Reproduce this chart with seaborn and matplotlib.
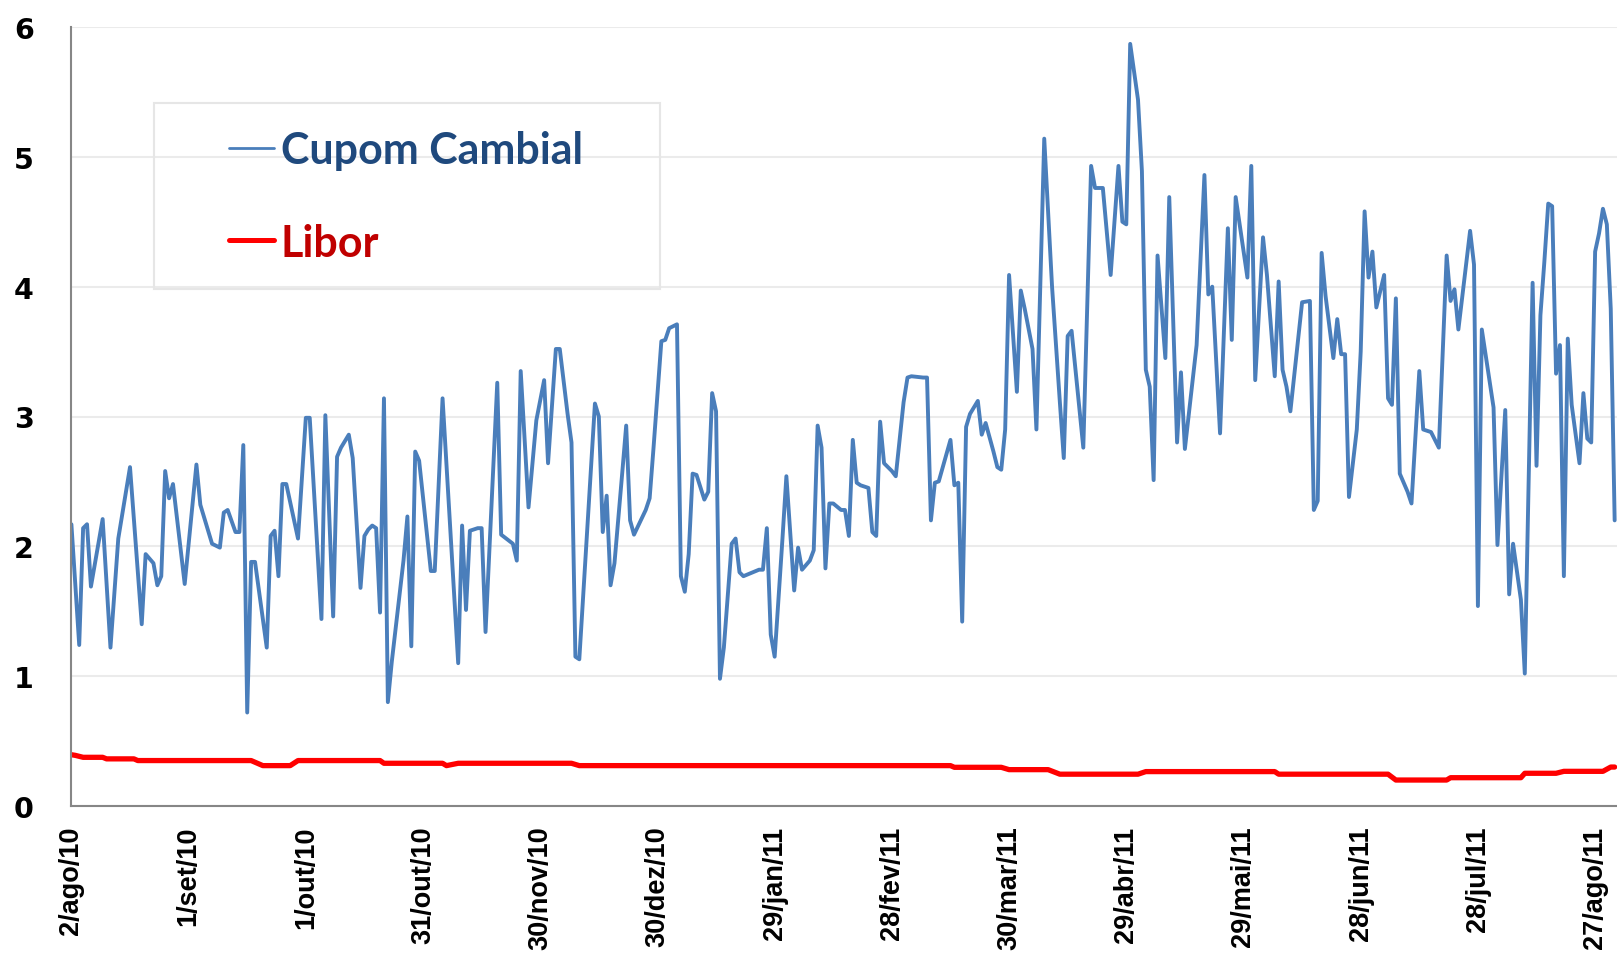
import pandas as pd
import matplotlib
matplotlib.use("Agg")
import matplotlib.pyplot as plt
from matplotlib.lines import Line2D
from matplotlib.patches import Rectangle
import seaborn as sns

# first day of the series; all positions below are days counted from it
start = pd.Timestamp("2010-08-02")

# Cupom Cambial (% a.a.)
cupom_days = [0, 2, 3, 4, 5, 8, 10, 12, 15, 18, 19, 21, 22, 23, 24, 25, 26, 29, 32, 33,
              36, 38, 39, 40, 42, 43, 44, 45, 46, 47, 50, 51, 52, 53, 54, 55, 58, 60, 61, 64,
              65, 67, 68, 69, 71, 72, 74, 75, 76, 77, 78, 79, 80, 81, 82, 85, 86, 87, 88, 89,
              92, 93, 95, 96, 99, 100, 101, 102, 104, 105, 106, 109, 110, 113, 114, 115, 117, 119, 121, 122,
              124, 125, 127, 128, 129, 130, 134, 135, 136, 137, 138, 139, 141, 142, 143, 144, 147, 148, 149, 151,
              152, 153, 155, 156, 157, 158, 159, 160, 162, 163, 164, 165, 166, 167, 169, 170, 171, 172, 176, 177,
              178, 179, 180, 182, 183, 185, 186, 187, 189, 190, 191, 192, 193, 194, 195, 197, 198, 199, 200, 201,
              202, 204, 205, 206, 207, 208, 210, 211, 213, 214, 215, 218, 219, 220, 221, 222, 225, 226, 227, 228,
              229, 230, 232, 233, 234, 236, 237, 238, 239, 240, 242, 243, 244, 246, 247, 249, 251, 253, 254, 255,
              256, 259, 261, 262, 264, 266, 268, 269, 270, 271, 273, 274, 275, 276, 277, 278, 280, 281, 283, 284,
              285, 288, 290, 291, 292, 294, 296, 297, 298, 301, 302, 303, 305, 306, 308, 309, 310, 311, 312, 315,
              317, 318, 319, 320, 321, 323, 324, 325, 326, 327, 329, 330, 331, 332, 333, 334, 336, 337, 338, 339,
              340, 342, 343, 345, 346, 348, 350, 352, 353, 354, 355, 358, 359, 360, 361, 364, 365, 367, 368, 369,
              371, 372, 374, 375, 376, 377, 378, 379, 380, 381, 382, 383, 384, 386, 387, 388, 389, 390, 391, 392,
              393, 394, 395]
cupom_vals = [2.17, 1.24, 2.14, 2.17, 1.69, 2.21, 1.22, 2.06, 2.61, 1.40, 1.94, 1.87, 1.70, 1.77, 2.58, 2.37, 2.48, 1.71, 2.63, 2.32,
              2.02, 1.99, 2.26, 2.28, 2.11, 2.11, 2.78, 0.72, 1.88, 1.88, 1.22, 2.08, 2.12, 1.77, 2.48, 2.48, 2.06, 2.99, 2.99, 1.44,
              3.01, 1.46, 2.69, 2.76, 2.86, 2.68, 1.68, 2.08, 2.13, 2.16, 2.14, 1.49, 3.14, 0.80, 1.11, 1.89, 2.23, 1.23, 2.73, 2.66,
              1.81, 1.81, 3.14, 2.63, 1.10, 2.16, 1.51, 2.12, 2.14, 2.14, 1.34, 3.26, 2.09, 2.02, 1.89, 3.35, 2.30, 2.97, 3.28, 2.64,
              3.52, 3.52, 3.02, 2.80, 1.15, 1.13, 3.10, 3.00, 2.11, 2.39, 1.70, 1.87, 2.57, 2.93, 2.20, 2.09, 2.28, 2.37, 2.76, 3.58,
              3.59, 3.68, 3.71, 1.77, 1.65, 1.94, 2.56, 2.55, 2.36, 2.42, 3.18, 3.04, 0.98, 1.22, 2.02, 2.06, 1.80, 1.77, 1.82, 1.82,
              2.14, 1.32, 1.15, 2.06, 2.54, 1.66, 1.99, 1.82, 1.89, 1.97, 2.93, 2.76, 1.83, 2.33, 2.33, 2.28, 2.28, 2.08, 2.82, 2.49,
              2.47, 2.45, 2.11, 2.08, 2.96, 2.64, 2.58, 2.54, 3.11, 3.30, 3.31, 3.30, 3.30, 2.20, 2.49, 2.50, 2.82, 2.47, 2.49, 1.42,
              2.92, 3.02, 3.12, 2.86, 2.95, 2.73, 2.61, 2.59, 2.90, 4.09, 3.19, 3.97, 3.83, 3.52, 2.90, 5.14, 4.00, 3.11, 2.68, 3.62,
              3.66, 2.76, 4.93, 4.76, 4.76, 4.09, 4.93, 4.50, 4.48, 5.87, 5.44, 4.89, 3.36, 3.23, 2.51, 4.24, 3.45, 4.69, 2.80, 3.34,
              2.75, 3.55, 4.86, 3.94, 4.00, 2.87, 4.45, 3.59, 4.69, 4.07, 4.93, 3.28, 4.38, 4.09, 3.31, 4.04, 3.36, 3.23, 3.04, 3.88,
              3.89, 2.28, 2.35, 4.26, 3.93, 3.45, 3.75, 3.48, 3.48, 2.38, 2.90, 3.50, 4.58, 4.07, 4.27, 3.84, 4.09, 3.14, 3.09, 3.91,
              2.56, 2.42, 2.33, 3.35, 2.90, 2.88, 2.76, 4.24, 3.89, 3.98, 3.67, 4.43, 4.17, 1.54, 3.67, 3.07, 2.01, 3.05, 1.63, 2.02,
              1.59, 1.02, 4.03, 2.62, 3.78, 4.19, 4.64, 4.62, 3.33, 3.55, 1.77, 3.60, 3.09, 2.64, 3.18, 2.83, 2.80, 4.27, 4.41, 4.60,
              4.48, 3.83, 2.20]

# Libor (% a.a.)
libor_days = [0, 1, 3, 8, 9, 16, 17, 46, 49, 56, 58, 79, 80, 95, 96, 99, 128, 130, 225, 226,
              238, 240, 250, 253, 273, 275, 308, 309, 337, 339, 352, 353, 371, 372, 380, 382, 392, 394, 395]
libor_vals = [0.395, 0.39, 0.375, 0.375, 0.363, 0.363, 0.35, 0.35, 0.311, 0.311, 0.35, 0.35, 0.329, 0.329, 0.311, 0.329, 0.329, 0.311, 0.311, 0.298,
              0.298, 0.28, 0.28, 0.245, 0.245, 0.265, 0.265, 0.245, 0.245, 0.20, 0.20, 0.218, 0.218, 0.252, 0.252, 0.267, 0.267, 0.30, 0.30]

tick_labels = ["2/ago/10", "1/set/10", "1/out/10", "31/out/10", "30/nov/10", "30/dez/10", "29/jan/11",
               "28/fev/11", "30/mar/11", "29/abr/11", "29/mai/11", "28/jun/11", "28/jul/11", "27/ago/11"]

cupom = pd.DataFrame({"data": start + pd.to_timedelta(cupom_days, unit="D"), "taxa": cupom_vals})
libor = pd.DataFrame({"data": start + pd.to_timedelta(libor_days, unit="D"), "taxa": libor_vals})

sns.set_theme(style="white")
plt.rcParams["font.family"] = ["Liberation Sans", "DejaVu Sans"]

W, H = 1617, 979
fig = plt.figure(figsize=(W / 100, H / 100), dpi=100)
ax = fig.add_axes([71.4 / W, 1 - 807 / H, 1 - 71.4 / W, (807 - 28) / H])

sns.lineplot(data=cupom, x="data", y="taxa", color="#4A7EBB", linewidth=2.8, ax=ax,
             solid_joinstyle="round")
sns.lineplot(data=libor, x="data", y="taxa", color="#FF0000", linewidth=3.8, ax=ax)

ax.set_xlabel("")
ax.set_ylabel("")
ax.set_ylim(0, 6)
ax.set_xlim(start, start + pd.Timedelta(days=395.6))

ax.yaxis.grid(True, color="#ebebeb", linewidth=1.5)
ax.set_axisbelow(True)
for side in ["top", "right"]:
    ax.spines[side].set_visible(False)
for side in ["left", "bottom"]:
    ax.spines[side].set_color("#868686")
    ax.spines[side].set_linewidth(1.5)
ax.tick_params(axis="both", direction="out", length=8, width=1.2, color="#868686")
ax.tick_params(axis="y", pad=19, labelcolor="black")
ax.tick_params(axis="x", pad=6, labelcolor="black")

ax.set_yticks(range(7))
ax.set_yticklabels([str(v) for v in range(7)], fontsize=20.5, fontweight="bold",
                   family="DejaVu Sans")
tick_dates = [start + pd.Timedelta(days=30 * i) for i in range(len(tick_labels))]
ax.set_xticks(tick_dates)
ax.set_xticklabels(tick_labels, rotation=90, fontsize=19.5, fontweight="bold")

# legend: thin box drawn separately, entries placed inside it
fig.add_artist(Rectangle((154 / W, 1 - 290 / H), (660 - 154) / W, (290 - 104) / H,
                         transform=fig.transFigure, fill=False, edgecolor="#e6e6e6", linewidth=1.5))
handles = [Line2D([0], [0], color="#4A7EBB", linewidth=2),
           Line2D([0], [0], color="#FF0000", linewidth=3.6)]
ax.legend(handles, ["Cupom Cambial", "Libor"], loc="upper left",
          bbox_to_anchor=(229 / W, 1 - 131 / H), bbox_transform=fig.transFigure,
          frameon=False, borderpad=0, borderaxespad=0, handlelength=1.05, handletextpad=0.15,
          labelspacing=1.22, labelcolor=["#1F497D", "#C00000"],
          prop={"family": "Lato", "weight": "bold", "size": 31})

fig.savefig("out.png", dpi=100)
